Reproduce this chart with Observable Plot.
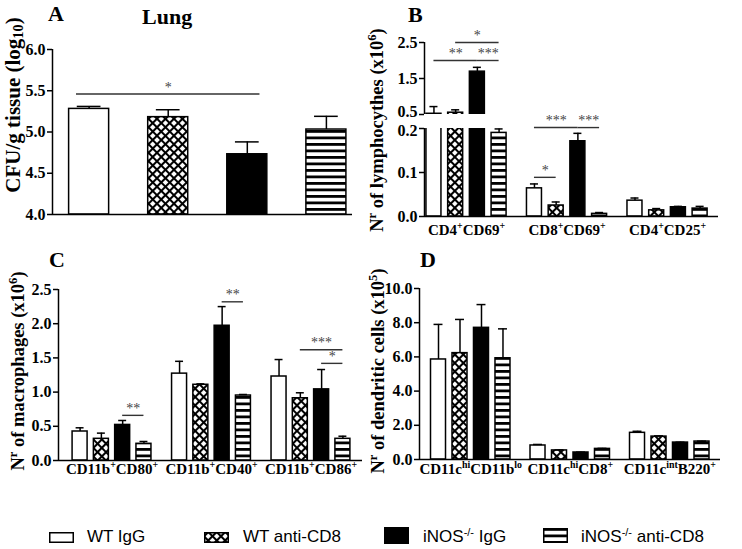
<!DOCTYPE html>
<html><head><meta charset="utf-8">
<script src="https://cdn.jsdelivr.net/npm/d3@7"></script>
<script src="https://cdn.jsdelivr.net/npm/@observablehq/plot@0.6"></script>
<style>
html,body{margin:0;padding:0;background:#fff;}
#fig{position:relative;width:742px;height:549px;overflow:hidden;background:#fff;}
.panel{position:absolute;}
.ttl{position:absolute;font:bold 22px/1 "Liberation Serif",serif;color:#000;white-space:nowrap;}
.ylab{position:absolute;font:bold 19px/1 "Liberation Serif",serif;color:#000;white-space:nowrap;transform:translate(-50%,-50%) rotate(-90deg);}
.ylab sup,.ylab sub{font-size:68%;line-height:0;}
.ylab sup{vertical-align:0.5em;} .ylab sub{vertical-align:-0.25em;}
.leg{position:absolute;font:17px/1 "Liberation Sans",Arial,sans-serif;color:#000;white-space:nowrap;}
.leg sup{font-size:65%;line-height:0;vertical-align:0.5em;}
.sw{position:absolute;}
.panel svg g[aria-label^="y-axis"] line,.panel svg g[aria-label^="y-axis tick"] path{stroke-width:1.5px;}
.panel svg g[aria-label^="x-axis"]{font-size:15px;}
</style></head>
<body>
<svg width="0" height="0" style="position:absolute">
  <defs>
    <pattern id="xhatch" patternUnits="userSpaceOnUse" width="6" height="6" patternTransform="rotate(45)">
      <rect width="6" height="6" fill="white"/>
      <path d="M0,3H6M3,0V6" stroke="black" stroke-width="2.1"/>
    </pattern>
    <pattern id="hstripe" patternUnits="userSpaceOnUse" width="10" height="6.5">
      <rect width="10" height="6.5" fill="white"/>
      <rect y="0" width="10" height="2.8" fill="black"/>
    </pattern>
  </defs>
</svg>
<div id="fig"></div>
<script>
// ---------------- data ----------------
const series = ["WT IgG", "WT anti-CD8", "iNOS-/- IgG", "iNOS-/- anti-CD8"];
const legendLabels = ["WT IgG", "WT anti-CD8", "iNOS^{-/-} IgG", "iNOS^{-/-} anti-CD8"];
const seriesFill = ["white", "url(#xhatch)", "black", "url(#hstripe)"];

// Panel A – Lung CFU
const aMean = [5.28, 5.18, 4.73, 5.03];
const aSem  = [0.03, 0.09, 0.15, 0.16];
const aTicks = [4.0, 4.5, 5.0, 5.5, 6.0];
const aSig = [{g: 0, from: 0, to: 2, y: 5.46, label: "*"}];

// Panel B – lymphocytes (x10^6), broken axis
const bGroups = ["CD4+CD69+", "CD8+CD69+", "CD4+CD25+"];
const bTickLabels = ["CD4^{+}CD69^{+}", "CD8^{+}CD69^{+}", "CD4^{+}CD25^{+}"];
const bMean = [[0.52, 0.55, 1.69, 0.19], [0.064, 0.025, 0.171, 0.006], [0.036, 0.014, 0.021, 0.018]];
const bSem  = [[0.20, 0.08, 0.12, 0.009], [0.010, 0.008, 0.018, 0.003], [0.006, 0.004, 0.002, 0.005]];
const bTicks = [0.0, 0.1, 0.2, 0.5, 1.5, 2.5];
const bBreak = [0.2, 0.5];
const bSig = [
  {g: 0, from: 1, to: 3, y: 2.5, label: "*"},
  {g: 0, from: 0, to: 2, y: 2.0, label: "**"},
  {g: 0, from: 2, to: 3, y: 2.0, label: "***"},
  {g: 1, from: 0, to: 2, y: 0.22, label: "***"},
  {g: 1, from: 2, to: 3, y: 0.22, label: "***"},
  {g: 1, from: 0, to: 1, y: 0.089, label: "*"}
];

// Panel C – macrophages (x10^6)
const cGroups = ["CD11b+CD80+", "CD11b+CD40+", "CD11b+CD86+"];
const cTickLabels = ["CD11b^{+}CD80^{+}", "CD11b^{+}CD40^{+}", "CD11b^{+}CD86^{+}"];
const cMean = [[0.424, 0.317, 0.52, 0.244], [1.27, 1.107, 1.97, 0.95], [1.228, 0.91, 1.04, 0.317]];
const cSem  = [[0.054, 0.083, 0.065, 0.034], [0.18, 0.013, 0.28, 0.015], [0.248, 0.08, 0.29, 0.038]];
const cTicks = [0.0, 0.5, 1.0, 1.5, 2.0, 2.5];
const cSig = [
  {g: 0, from: 2, to: 3, y: 0.66, label: "**"},
  {g: 1, from: 2, to: 3, y: 2.32, label: "**"},
  {g: 2, from: 1, to: 3, y: 1.62, label: "***"},
  {g: 2, from: 2, to: 3, y: 1.42, label: "*"}
];

// Panel D – dendritic cells (x10^5)
const dGroups = ["CD11chiCD11blo", "CD11chiCD8+", "CD11cintB220+"];
const dTickLabels = ["CD11c^{hi}CD11b^{lo}", "CD11c^{hi}CD8^{+}", "CD11c^{int}B220^{+}"];
const dMean = [[5.85, 6.22, 7.7, 5.92], [0.82, 0.53, 0.41, 0.62], [1.56, 1.34, 0.99, 1.05]];
const dSem  = [[2.05, 1.97, 1.36, 1.72], [0.06, 0.03, 0.02, 0.03], [0.09, 0.04, 0.02, 0.02]];
const dTicks = [0, 2, 4, 6, 8, 10];
const dSig = [];

// ---------------- helpers ----------------
const fig = document.getElementById("fig");
const NS = "http://www.w3.org/2000/svg";

function rowsOf(mean, sem, pos) {
  const rows = [];
  mean.forEach((arr, g) => arr.forEach((m, s) => rows.push({g, s, mean: m, top: m + sem[g][s], x: pos(g, s)})));
  return rows;
}
function barMarks(rows, base, half) {
  return series.map((_, s) => Plot.rect(rows.filter(d => d.s === s), {
    x1: d => d.x - half, x2: d => d.x + half, y1: () => base, y2: "mean",
    fill: seriesFill[s], stroke: "black", strokeWidth: 1.5
  }));
}
function errMarks(rows, cap) {
  return [
    Plot.ruleX(rows, {x: "x", y1: "mean", y2: "top", stroke: "black", strokeWidth: 1.5}),
    Plot.ruleY(rows, {y: "top", x1: d => d.x - cap, x2: d => d.x + cap, stroke: "black", strokeWidth: 1.5})
  ];
}
function sigMarks(sig, pos, ext) {
  return [
    Plot.ruleY(sig, {y: "y", x1: d => pos(d.g, d.from) - ext, x2: d => pos(d.g, d.to) + ext, stroke: "#333", strokeWidth: 1.4}),
    Plot.text(sig, {x: d => (pos(d.g, d.from) + pos(d.g, d.to)) / 2, y: "y", text: "label", dy: -7,
      fill: "#444", fontSize: 14, fontWeight: "normal"})
  ];
}
function rich(root) {
  const re = /([\^_])\{([^}]*)\}/g;
  const nodes = [...root.querySelectorAll("text, tspan")].filter(n => n.childElementCount === 0 && /[\^_]\{/.test(n.textContent));
  for (const n of nodes) {
    const s = n.textContent;
    const fs = parseFloat(getComputedStyle(n).fontSize) || 15;
    n.textContent = "";
    let last = 0, shift = 0, m;
    const add = (txt, mode) => {
      const t = document.createElementNS(NS, "tspan");
      const target = mode === "^" ? -0.38 * fs : mode === "_" ? 0.22 * fs : 0;
      const d = target - shift;
      if (d) t.setAttribute("dy", d);
      shift = target;
      if (mode) t.setAttribute("font-size", (0.66 * fs) + "px");
      t.textContent = txt;
      n.appendChild(t);
    };
    re.lastIndex = 0;
    while ((m = re.exec(s))) {
      if (m.index > last) add(s.slice(last, m.index), null);
      add(m[2], m[1]);
      last = re.lastIndex;
    }
    if (last < s.length) add(s.slice(last), null);
  }
}
function htmlRich(s) {
  return s.replace(/\^\{([^}]*)\}/g, "<sup>$1</sup>").replace(/_\{([^}]*)\}/g, "<sub>$1</sub>");
}
function place(svg, left, top) {
  const div = document.createElement("div");
  div.className = "panel";
  div.style.left = left + "px";
  div.style.top = top + "px";
  div.appendChild(svg);
  fig.appendChild(div);
  rich(svg);
}
const baseStyle = {fontFamily: "Liberation Serif, serif", fontWeight: "bold", fontSize: "16px", color: "black", background: "transparent", overflow: "visible"};

// ---------------- Panel A ----------------
{
  const xd = [-0.463, 3.33];
  const pos = (g, s) => s;
  const rows = rowsOf([aMean], [aSem], pos);
  const svg = Plot.plot({
    width: 370, height: 240, marginLeft: 52, marginRight: 18, marginTop: 49, marginBottom: 26,
    style: baseStyle,
    x: {domain: xd, axis: null},
    y: {domain: [4, 6], ticks: aTicks, tickFormat: ".1f", tickSize: 5, tickPadding: 2, label: null},
    marks: [
      ...barMarks(rows, 4, 0.253),
      ...errMarks(rows, 0.15),
      ...sigMarks(aSig, pos, 0.16),
      Plot.ruleX([0], {x: () => xd[0], stroke: "black", strokeWidth: 1.5}),
      Plot.ruleY([0], {y: () => 4, stroke: "black", strokeWidth: 1.5})
    ]
  });
  place(svg, 0, 0);
}

// ---------------- Panel B (broken axis: 0–0.2 and 0.5–2.5) ----------------
{
  // display units: 0–0.2 → 0–88, gap 0.2–0.5 → 88–102, 0.5–2.5 → 102–174
  const bMap = v => v <= bBreak[0] ? v / bBreak[0] * 88
    : v <= bBreak[1] ? 88 + (v - bBreak[0]) / (bBreak[1] - bBreak[0]) * 14
    : 102 + (v - bBreak[1]) / (2.5 - bBreak[1]) * 72;
  const xd = [-0.418, 2.507];
  const step = 0.216;
  const pos = (g, s) => g + (s - 1.5) * step;
  const rows = rowsOf(bMean, bSem, pos).map(d => ({...d, mean: bMap(d.mean), top: bMap(d.top)}));
  const sig = bSig.map(d => ({...d, y: bMap(d.y)}));
  const fmt = d3.format(".1f");
  const tickLab = new Map(bTicks.map(t => [bMap(t), fmt(t)]));
  const svg = Plot.plot({
    width: 372, height: 240, marginLeft: 54, marginRight: 24, marginTop: 42, marginBottom: 24,
    style: baseStyle,
    x: {domain: xd, ticks: [0, 1, 2], tickFormat: i => bTickLabels[i], tickSize: 0, tickPadding: 8, label: null},
    y: {domain: [0, bMap(2.5)], ticks: bTicks.map(bMap), tickFormat: u => tickLab.get(u), tickSize: 5, tickPadding: 2, label: null},
    marks: [
      ...barMarks(rows, 0, 0.0746),
      Plot.rect([0], {x1: () => xd[0], x2: () => xd[1], y1: () => bMap(bBreak[0]), y2: () => bMap(bBreak[1]), fill: "white"}),
      ...errMarks(rows, 0.04),
      ...sigMarks(sig, pos, 0),
      Plot.ruleX([{y1: 0, y2: bBreak[0]}, {y1: bBreak[1], y2: 2.5}], {x: () => xd[0], y1: d => bMap(d.y1), y2: d => bMap(d.y2), stroke: "black", strokeWidth: 1.5}),
      Plot.ruleY([0], {y: () => 0, stroke: "black", strokeWidth: 1.5})
    ]
  });
  place(svg, 370, 0);
  // spread the two tick labels on either side of the axis break slightly apart
  const nudge = new Map([[fmt(bBreak[1]), -2.5], [fmt(bBreak[0]), 2.5]]);
  svg.querySelectorAll("text").forEach(t => {
    const k = t.textContent;
    if (nudge.has(k)) t.setAttribute("transform", ((t.getAttribute("transform") || "") + ` translate(0,${nudge.get(k)})`).trim());
  });
}

// ---------------- Panel C ----------------
{
  const xd = [-0.538, 2.518];
  const step = 0.214;
  const pos = (g, s) => g + (s - 1.5) * step;
  const rows = rowsOf(cMean, cSem, pos);
  const svg = Plot.plot({
    width: 370, height: 260, marginLeft: 58, marginRight: 8, marginTop: 49, marginBottom: 40,
    style: baseStyle,
    x: {domain: xd, ticks: [0, 1, 2], tickFormat: i => cTickLabels[i], tickSize: 0, tickPadding: 3, label: null},
    y: {domain: [0, 2.5], ticks: cTicks, tickFormat: ".1f", tickSize: 5, tickPadding: 2, label: null},
    marks: [
      ...barMarks(rows, 0, 0.0754),
      ...errMarks(rows, 0.04),
      ...sigMarks(cSig, pos, 0),
      Plot.ruleX([0], {x: () => xd[0], stroke: "black", strokeWidth: 1.5}),
      Plot.ruleY([0], {y: () => 0, stroke: "black", strokeWidth: 1.5})
    ]
  });
  place(svg, 0, 240);
}

// ---------------- Panel D ----------------
{
  const xd = [-0.515, 2.51];
  const step = 0.216;
  const pos = (g, s) => g + (s - 1.5) * step;
  const rows = rowsOf(dMean, dSem, pos);
  const svg = Plot.plot({
    width: 372, height: 260, marginLeft: 49, marginRight: 22, marginTop: 48, marginBottom: 41,
    style: baseStyle,
    x: {domain: xd, ticks: [0, 1, 2], tickFormat: i => dTickLabels[i], tickSize: 0, tickPadding: 4, label: null},
    y: {domain: [0, 10], ticks: dTicks, tickFormat: ".1f", tickSize: 5, tickPadding: 2, label: null},
    marks: [
      ...barMarks(rows, 0, 0.0754),
      ...errMarks(rows, 0.045),
      ...sigMarks(dSig, pos, 0),
      Plot.ruleX([0], {x: () => xd[0], stroke: "black", strokeWidth: 1.5}),
      Plot.ruleY([0], {y: () => 0, stroke: "black", strokeWidth: 1.5})
    ]
  });
  place(svg, 370, 240);
}

// ---------------- titles & axis labels ----------------
const titles = [
  {t: "A", left: 48, top: 3}, {t: "Lung", left: 142, top: 6},
  {t: "B", left: 408, top: 4}, {t: "C", left: 49, top: 249}, {t: "D", left: 420, top: 249}
];
for (const d of titles) {
  const el = document.createElement("div");
  el.className = "ttl"; el.textContent = d.t;
  el.style.left = d.left + "px"; el.style.top = d.top + "px";
  fig.appendChild(el);
}
const yLabels = [
  {t: "CFU/g tissue (log_{10})", cx: 13, cy: 105, fs: 21},
  {t: "N^{r} of lymphocythes (x10^{6})", cx: 377, cy: 130, fs: 18.5},
  {t: "N^{r} of macrophages (x10^{6})", cx: 17.5, cy: 371, fs: 18.5},
  {t: "N^{r} of dendritic cells (x10^{5})", cx: 377.5, cy: 371, fs: 18.5}
];
for (const d of yLabels) {
  const el = document.createElement("div");
  el.className = "ylab"; el.innerHTML = htmlRich(d.t);
  el.style.left = d.cx + "px"; el.style.top = d.cy + "px"; el.style.fontSize = d.fs + "px";
  fig.appendChild(el);
}

// ---------------- legend ----------------
const legSw = [{x: 49, y: 532, h: 11}, {x: 204, y: 532, h: 11}, {x: 384, y: 527, h: 17}, {x: 543, y: 528, h: 15}];
const legTx = [87, 243, 423, 581];
series.forEach((name, s) => {
  const sw = document.createElementNS(NS, "svg");
  sw.setAttribute("class", "sw");
  sw.setAttribute("width", 25); sw.setAttribute("height", legSw[s].h);
  sw.style.left = legSw[s].x + "px"; sw.style.top = legSw[s].y + "px";
  const r = document.createElementNS(NS, "rect");
  r.setAttribute("x", 0.75); r.setAttribute("y", 0.75);
  r.setAttribute("width", 23.5); r.setAttribute("height", legSw[s].h - 1.5);
  r.setAttribute("fill", seriesFill[s]); r.setAttribute("stroke", "black"); r.setAttribute("stroke-width", 1.5);
  sw.appendChild(r);
  fig.appendChild(sw);
  const tx = document.createElement("div");
  tx.className = "leg"; tx.innerHTML = htmlRich(legendLabels[s]);
  tx.style.left = legTx[s] + "px"; tx.style.top = "528px";
  fig.appendChild(tx);
});
</script>
</body></html>
